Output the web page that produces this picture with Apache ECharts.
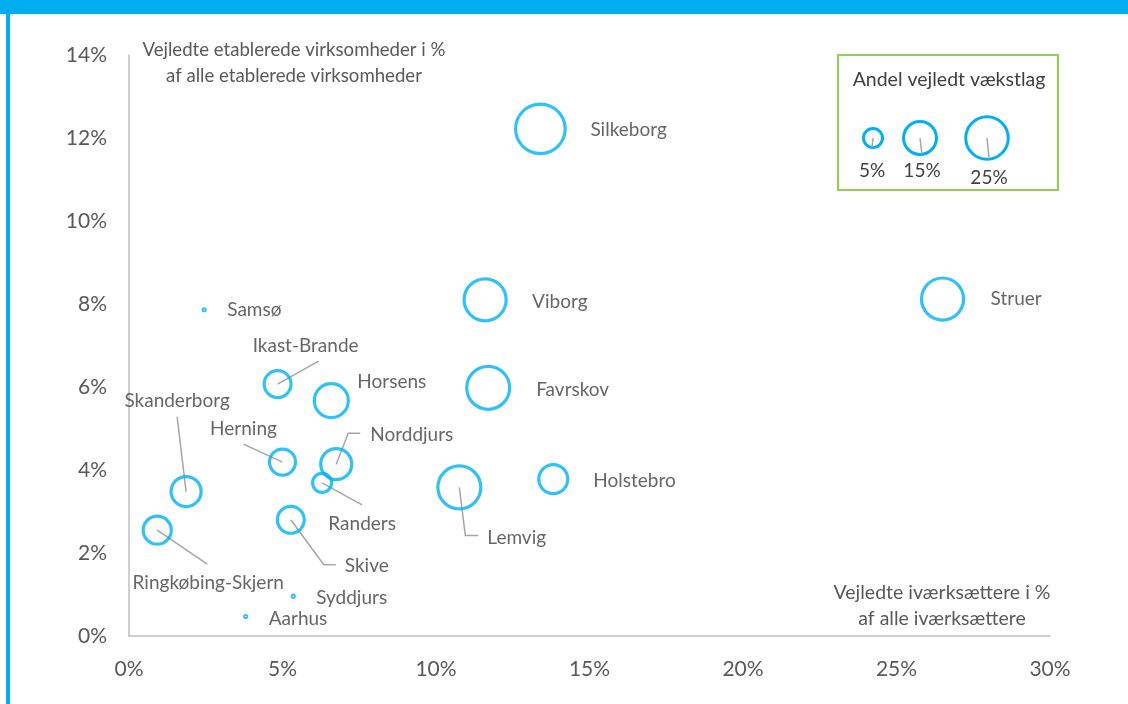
<!DOCTYPE html>
<html>
<head>
<meta charset="utf-8">
<title>Vejledte virksomheder</title>
<script src="https://cdn.jsdelivr.net/npm/echarts@6/dist/echarts.min.js"></script>
<style>
  html, body { margin: 0; padding: 0; background: #fff; }
  #main { width: 1128px; height: 704px; }
</style>
</head>
<body>
<div id="main"></div>
<script>
// data
const kommuner = ['Silkeborg', 'Viborg', 'Struer', 'Favrskov', 'Samsø', 'Ikast-Brande', 'Horsens',
    'Skanderborg', 'Herning', 'Norddjurs', 'Randers', 'Lemvig', 'Holstebro', 'Skive',
    'Ringkøbing-Skjern', 'Syddjurs', 'Aarhus'];
const ivaerksaettere = [13.4, 11.6, 26.5, 11.7, 2.45, 4.84, 6.59, 1.86, 5.0, 6.75, 6.29, 10.76, 13.82, 5.27, 0.92, 5.35, 3.8];
const etablerede = [12.22, 8.1, 8.12, 5.98, 7.86, 6.07, 5.67, 3.48, 4.19, 4.14, 3.69, 3.58, 3.78, 2.8, 2.55, 0.96, 0.47];
const vaekstlag = [34, 24.5, 24.5, 25.5, 0.05, 10, 16, 12.5, 9.4, 13.3, 5, 25.5, 11.6, 10, 10.9, 0.05, 0.05];
const legendShares = [5, 15, 25];
const xTicks = [0, 5, 10, 15, 20, 25, 30];
const yTicks = [0, 2, 4, 6, 8, 10, 12, 14];

// label placement (pixel offsets from bubble centre)
const labelPos = {
    'Silkeborg': [50, 1, 'left'], 'Viborg': [47, 2, 'left'], 'Struer': [48, 0, 'left'],
    'Favrskov': [48, 2, 'left'], 'Samsø': [23, 0, 'left'], 'Ikast-Brande': [28, -38, 'center'],
    'Horsens': [26, -19, 'left'], 'Skanderborg': [-9, -91, 'center'], 'Herning': [-39, -33, 'center'],
    'Norddjurs': [34, -29, 'left'], 'Randers': [40, 41, 'center'], 'Lemvig': [28, 50, 'left'],
    'Holstebro': [40, 2, 'left'], 'Skive': [54, 46, 'left'], 'Ringkøbing-Skjern': [51, 53, 'center'],
    'Syddjurs': [23, 2, 'left'], 'Aarhus': [23, 2, 'left']
};
const leaders = {
    'Ikast-Brande': [[0, 0], [41, -23]],
    'Skanderborg': [[0, 0], [-9, -75]],
    'Herning': [[0, 0], [-39, -18]],
    'Norddjurs': [[0, 0], [12, -31], [24, -31]],
    'Randers': [[0, 0], [40, 22]],
    'Skive': [[0, 0], [33, 45], [45, 45]],
    'Ringkøbing-Skjern': [[0, 0], [50, 34]],
    'Lemvig': [[0, 0], [6, 48], [19, 48]]
};

const blue = '#00B0F0';
const txt = '#404040';
const font = 'Lato, "Open Sans", sans-serif';
const bubbleSize = (v) => 8.5 * Math.sqrt(v);

const bubbles = kommuner.map((k, i) => {
    const p = labelPos[k];
    return {
        name: k,
        value: [ivaerksaettere[i], etablerede[i], vaekstlag[i]],
        label: {offset: [p[0], p[1]], align: p[2]}
    };
});
const leaderData = kommuner.map((k, i) => ({name: k, value: [ivaerksaettere[i], etablerede[i]]}))
    .filter(d => leaders[d.name]);

const legendX = [873, 920, 987];
const legendGraphics = [];
legendShares.forEach((s, i) => {
    const r = bubbleSize(s) / 2;
    legendGraphics.push({
        type: 'circle', shape: {cx: legendX[i], cy: 138, r: r},
        style: {fill: 'transparent', stroke: blue, lineWidth: 3}
    });
    legendGraphics.push({
        type: 'line', shape: {x1: legendX[i], y1: 138, x2: legendX[i] + (i === 0 ? -1 : 2), y2: 138 + r - 2 + (i === 2 ? 0 : 2)},
        style: {stroke: '#A6A6A6', lineWidth: 1.5}
    });
    legendGraphics.push({
        type: 'text', x: legendX[i] + (i === 0 ? -1 : 2), y: i === 2 ? 178 : 171,
        style: {text: s + '%', font: '19px ' + font, fill: txt, textAlign: 'center', textVerticalAlign: 'middle'}
    });
});

const chart = echarts.init(document.getElementById('main'));
const option = {
    animation: false,
    backgroundColor: '#fff',
    grid: {left: 129, right: 78, top: 55, bottom: 68, containLabel: false},
    xAxis: {
        type: 'value', min: xTicks[0], max: xTicks[xTicks.length - 1], interval: 5,
        axisLine: {show: true, lineStyle: {color: '#BFBFBF', width: 1.5}},
        axisTick: {show: false}, splitLine: {show: false},
        axisLabel: {formatter: '{value}%', color: '#595959', fontSize: 21, fontFamily: font, margin: 23}
    },
    yAxis: {
        type: 'value', min: yTicks[0], max: yTicks[yTicks.length - 1], interval: 2,
        axisLine: {show: true, lineStyle: {color: '#BFBFBF', width: 1.5}},
        axisTick: {show: false}, splitLine: {show: false},
        axisLabel: {formatter: '{value}%', color: '#595959', fontSize: 21, fontFamily: font, margin: 22}
    },
    graphic: [
        {type: 'rect', shape: {x: 0, y: 0, width: 1128, height: 14}, style: {fill: '#00ADEF'}},
        {type: 'rect', shape: {x: 6, y: 0, width: 4, height: 704}, style: {fill: '#00ADEF'}},
        {type: 'rect', shape: {x: 838, y: 55, width: 220, height: 135},
            style: {fill: '#fff', stroke: '#92D050', lineWidth: 2}},
        {type: 'text', x: 949, y: 80,
            style: {text: 'Andel vejledt vækstlag', font: '19.5px ' + font, fill: txt, textAlign: 'center', textVerticalAlign: 'middle'}},
        {type: 'text', x: 294, y: 63,
            style: {text: 'Vejledte etablerede virksomheder i %\naf alle etablerede virksomheder', font: '18.6px ' + font,
                fill: '#595959', textAlign: 'center', textVerticalAlign: 'middle', lineHeight: 26}},
        {type: 'text', x: 942, y: 606,
            style: {text: 'Vejledte iværksættere i %\naf alle iværksættere', font: '19.5px ' + font,
                fill: '#595959', textAlign: 'center', textVerticalAlign: 'middle', lineHeight: 26}}
    ].concat(legendGraphics),
    series: [
        {
            type: 'custom',
            data: leaderData,
            silent: true,
            renderItem: (params, api) => {
                const c = api.coord([api.value(0), api.value(1)]);
                const pts = leaders[leaderData[params.dataIndex].name];
                return {
                    type: 'polyline',
                    shape: {points: pts.map(o => [c[0] + o[0], c[1] + o[1]])},
                    style: {stroke: '#A6A6A6', lineWidth: 1.5, fill: null}
                };
            }
        },
        {
            type: 'scatter',
            data: bubbles,
            symbol: 'circle',
            symbolSize: (val) => bubbleSize(val[2]),
            itemStyle: {color: 'rgba(255,255,255,0)', borderColor: blue, borderWidth: 3.2},
            label: {
                show: true, position: 'inside', formatter: '{b}',
                color: txt, fontSize: 19, fontFamily: font, verticalAlign: 'middle'
            }
        }
    ]
};
chart.setOption(option);
</script>
</body>
</html>
